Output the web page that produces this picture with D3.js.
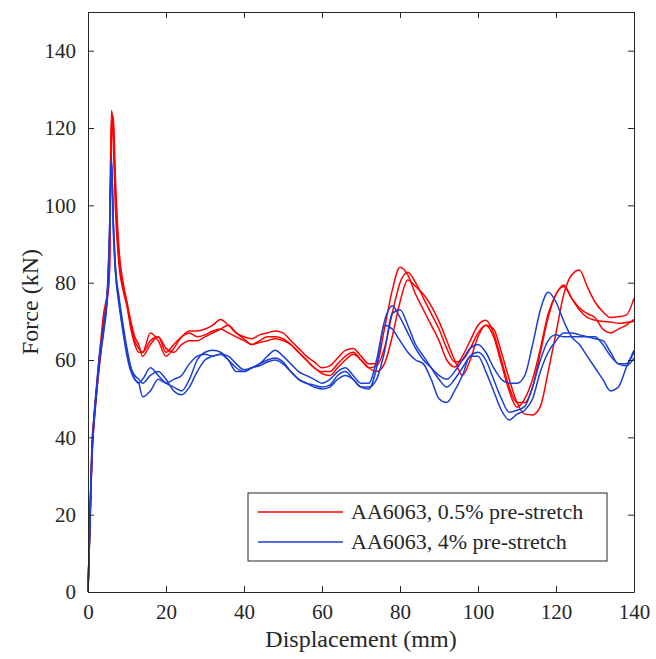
<!DOCTYPE html>
<html>
<head>
<meta charset="utf-8">
<script src="https://cdn.jsdelivr.net/npm/d3@7"></script>
<style>
  body { margin: 0; background: #fff; }
  text { font-family: "Liberation Serif", "Times New Roman", serif; fill: #262626; }
</style>
</head>
<body>
<svg width="656" height="659"></svg>
<script>

// displacement samples (mm)
var disp = [0,0.5,1,1.5,2,3,4,5,5.5,6,6.5,7,8,9,10,11,12,13,
    14,16,18,20,22,24,26,28,30,32,34,36,38,40,
    42,44,46,48,50,52,54,56,58,60,62,64,66,68,70,
    72,74,76,78,80,82,84,86,88,90,92,94,96,98,100,
    102,104,106,108,110,112,114,116,118,120,122,124,126,128,130,132,134,136,138,140];

// AA6063, 0.5% pre-stretch (kN)
var red1 = [0,18,35,44,50,60,70,77,84,122,116,100,84,78,74,69,65,63,
    62,65,66,62,64,66,67,66,66.5,67.5,68,67,66,65,
    64,65,66,66,65.5,64,62,60,58,57,57,59,61,62,60,
    58,58.5,63,72,80,82.7,80,76,72,68,63,59.5,60,63,67,
    69,66,59,52,47.8,50,55,63,72,77,79.4,76,73,71,70.3,70,69.8,69.5,69.7,70];
var red2 = [0,20,38,45,51,62,72,78,88,124.5,120,104,86,79,74,68,64,62,
    62,67,65,61,63,66,67.5,67.5,68,69,70.5,69,67,66,
    65.5,66.5,67,67.5,67,65,63,61,59.5,58,58.5,60.5,62.5,63,61,
    59,59,68,78,84,82,77,73,69,65,60,58.2,61,65,69,
    70.3,67,60,53,49,49,53,62,71,77,79,76,73.5,72,71,68,67,68,69,70.5];
var red3 = [0,17,34,43,49,59,68,76,82,118,123,108,88,80,75,70,66,64,
    61,64,66,63,62,64,65,65,66,67,68,69,67,65.5,
    64,64.5,65,65.5,65,64,62,60,58,56.5,56,58,60,61.5,60,
    58,57,59,66,75,80.7,79,77,74,70,65,60,56,60,66,
    69,68,62,55,49,46,45.8,48,57,67,77,82,83.3,79,75,72.5,71,71.2,71.6,76];

// AA6063, 4% pre-stretch (kN)
var blue1 = [0,18,36,44,50,61,68,78,92,113,93,83,74,67,61,57,55,54,
    55,58,56,54,53,52,55,60,62,62.5,62,60,57,57,
    58,59,61,62.5,61,59,57,56,55,54,55,57,58,56,54,
    54,60,70,74,71,67,63,60,58,56,55,57,60,63,64,
    62,58,55,54,54,56,64,73,77.5,75,70,66,64,61,58,55,52,53,58,62.5];
var blue2 = [0,17,35,43,49,60,67,77,90,112,95,84,75,68,62,58,55,54,
    50.5,52,55,54,55,56,59,61,61.5,61,61.5,60,58,57,
    58,58.5,59.5,60,59,57,55,54,53,52.5,53,55,56,55,53,
    52.5,58,69,68,65,62,60,59,55,50,49,52,56,61,61,
    57,52,47,44.5,46,47,50,57,62,65,67,67,66.5,66,65.5,65,62,59,59,62];
var blue3 = [0,19,37,45,51,62,69,79,93,111,96,85,76,69,63,58,56,55,
    54,56,57,55,52,51,53,57,60,61,61.5,61,59,57.5,
    58,59,60,60.5,59.5,57,55,54,53.5,53,53.5,56,57,55,53,
    53,55,62,72,73,69,64,61,58,55,53,55,58,61,62,
    60,55,50,46.5,47,48,53,60,65,66.5,66,66,66,66,66,64,61,59,58.5,60.5];

var xTicks = [0,20,40,60,80,100,120,140];
var yTicks = [0,20,40,60,80,100,120,140];
var legendLabels = ["AA6063, 0.5% pre-stretch", "AA6063, 4% pre-stretch"];

var RED = "#ff0000", BLUE = "#1a3fd2", AX = "#262626";

var svg = d3.select("svg"),
    margin = {top: 12, right: 22, bottom: 67, left: 88},
    width = +svg.attr("width") - margin.left - margin.right,
    height = +svg.attr("height") - margin.top - margin.bottom,
    g = svg.append("g").attr("transform", "translate(" + margin.left + "," + margin.top + ")");

var x = d3.scaleLinear().domain([0, 140]).range([0, width]);
var y = d3.scaleLinear().domain([0, 150]).range([height, 0]);

var line = d3.line()
    .x(function(d) { return x(d[0]); })
    .y(function(d) { return y(d[1]); })
    .curve(d3.curveMonotoneX);

var series = [
    {vals: red1, color: RED}, {vals: red2, color: RED}, {vals: red3, color: RED},
    {vals: blue1, color: BLUE}, {vals: blue2, color: BLUE}, {vals: blue3, color: BLUE}
];

g.selectAll("path.curve")
    .data(series)
    .enter()
    .append("path")
    .attr("class", "curve")
    .attr("fill", "none")
    .attr("stroke", function(d) { return d.color; })
    .attr("stroke-width", 1.5)
    .attr("stroke-linejoin", "round")
    .attr("d", function(d) { return line(disp.map(function(v, i) { return [v, d.vals[i]]; })); });

// axes, ticks point inwards (box on all sides)
function styleAxis(sel, fs) {
    sel.select(".domain").attr("stroke", AX);
    sel.selectAll(".tick line").attr("stroke", AX);
    sel.selectAll(".tick text").style("font-size", fs).attr("fill", AX)
        .style("font-family", "'Liberation Serif', 'Times New Roman', serif");
}

g.append("g")
    .attr("transform", "translate(0," + height + ")")
    .call(d3.axisBottom(x).tickValues(xTicks).tickSizeInner(-6).tickSizeOuter(0).tickPadding(12))
    .call(styleAxis, "21px");

g.append("g")
    .call(d3.axisLeft(y).tickValues(yTicks).tickSizeInner(-6).tickSizeOuter(0).tickPadding(12))
    .call(styleAxis, "21px");

g.append("g")
    .call(d3.axisTop(x).tickValues(xTicks).tickSizeInner(-6).tickSizeOuter(0).tickFormat(""))
    .call(styleAxis, "0px");

g.append("g")
    .attr("transform", "translate(" + width + ",0)")
    .call(d3.axisRight(y).tickValues(yTicks).tickSizeInner(-6).tickSizeOuter(0).tickFormat(""))
    .call(styleAxis, "0px");

// axis labels
svg.append("text")
    .attr("x", margin.left + width / 2)
    .attr("y", 647)
    .style("text-anchor", "middle")
    .style("font-size", "24px")
    .text("Displacement (mm)");

svg.append("text")
    .attr("transform", "translate(38," + (margin.top + height / 2) + ") rotate(-90)")
    .style("text-anchor", "middle")
    .style("font-size", "24px")
    .text("Force (kN)");

// legend
var legend = svg.append("g").attr("transform", "translate(248,493)");
legend.append("rect")
    .attr("width", 359)
    .attr("height", 68)
    .attr("fill", "#fff")
    .attr("stroke", AX)
    .attr("stroke-width", 1);

legendLabels.forEach(function(lab, i) {
    var ly = 19 + i * 30;
    legend.append("line")
        .attr("x1", 10).attr("x2", 95)
        .attr("y1", ly).attr("y2", ly)
        .attr("stroke", i === 0 ? RED : BLUE)
        .attr("stroke-width", 1.5);
    legend.append("text")
        .attr("x", 103)
        .attr("y", ly + 7)
        .style("font-size", "22px")
        .text(lab);
});

</script>
</body>
</html>
